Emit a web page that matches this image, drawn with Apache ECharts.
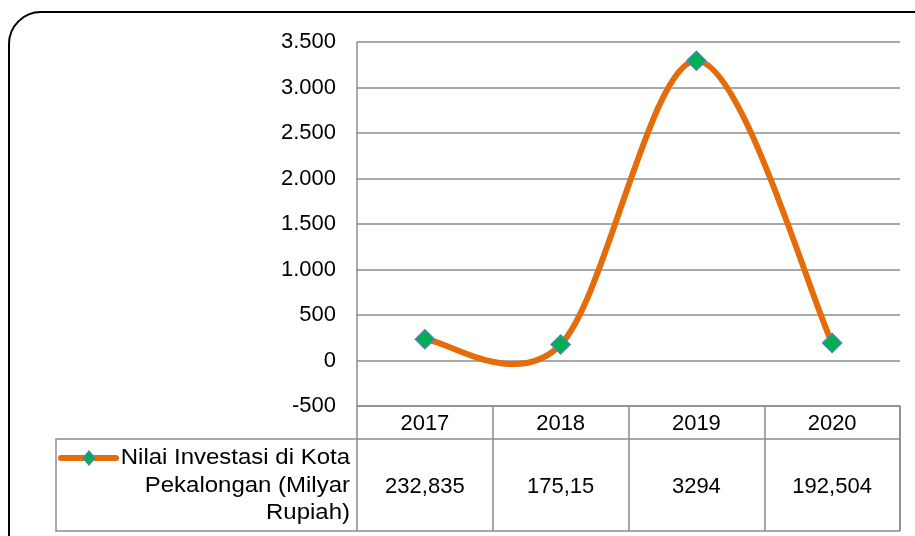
<!DOCTYPE html>
<html>
<head>
<meta charset="utf-8">
<script src="https://cdn.jsdelivr.net/npm/echarts@6/dist/echarts.min.js"></script>
<style>
html,body{margin:0;padding:0;background:#fff;}
#c{width:915px;height:536px;}
</style>
</head>
<body>
<div id="c"></div>
<script>
var categories = ['2017', '2018', '2019', '2020'];
var values = [232.835, 175.15, 3294, 192.504];
var seriesName = 'Nilai Investasi di Kota Pekalongan (Milyar Rupiah)';
var legendLines = ['Nilai Investasi di Kota', 'Pekalongan (Milyar', 'Rupiah)'];
var yMin = -500, yMax = 3500, yStep = 500;

var FONT = '"Liberation Sans", Arial, sans-serif';
var FS = 22;
var GRID = '#8c8c8c';
var LINE = '#E46C0A';

function fmtThousands(v) {
  var s = String(Math.abs(v)).replace(/\B(?=(\d{3})+(?!\d))/g, '.');
  return (v < 0 ? '-' : '') + s;
}
function fmtValue(v) { return String(v).replace('.', ','); }

var chart = echarts.init(document.getElementById('c'), null, {renderer: 'canvas'});

// Excel-style smoothed line (Catmull-Rom -> cubic Bezier) built from axis coordinates
function renderSmooth(params, api) {
  if (params.dataIndex !== 0) return null;
  var pts = values.map(function (v, i) { return api.coord([i, v]); });
  var n = pts.length, children = [];
  for (var i = 0; i < n - 1; i++) {
    var p0 = pts[Math.max(0, i - 1)], p1 = pts[i], p2 = pts[i + 1], p3 = pts[Math.min(n - 1, i + 2)];
    children.push({
      type: 'bezierCurve',
      shape: {
        x1: p1[0], y1: p1[1], x2: p2[0], y2: p2[1],
        cpx1: p1[0] + (p2[0] - p0[0]) / 6, cpy1: p1[1] + (p2[1] - p0[1]) / 6,
        cpx2: p2[0] - (p3[0] - p1[0]) / 6, cpy2: p2[1] - (p3[1] - p1[1]) / 6
      },
      style: {stroke: LINE, lineWidth: 6, fill: null, lineCap: 'round', lineJoin: 'round'}
    });
  }
  return {type: 'group', children: children};
}

var legendGraphics = [
  {type: 'line', shape: {x1: 61, y1: 458, x2: 116, y2: 458},
   style: {stroke: LINE, lineWidth: 6, lineCap: 'round'}, z: 10},
  {type: 'polygon', shape: {points: [[89, 451], [95, 458], [89, 465], [83, 458]]},
   style: {fill: '#00B050', stroke: '#4F81BD', lineWidth: 1.2}, z: 11}
];
legendLines.forEach(function (t, i) {
  legendGraphics.push({type: 'text', x: 350, y: 458 + i * 27.5, z: 10,
    scaleX: 1.09, originX: 0, originY: 0,
    style: {text: t, font: FS + 'px ' + FONT, fill: '#000', align: 'right', verticalAlign: 'middle'}});
});

var option = {
  animation: false,
  backgroundColor: '#fff',
  grid: {left: 357, right: 15, top: 42, bottom: 130, containLabel: false},
  xAxis: [{
    type: 'category', data: categories, position: 'bottom',
    boundaryGap: true,
    axisLine: {show: true, onZero: false, lineStyle: {color: GRID, width: 1.5}},
    axisTick: {show: true, interval: 0, alignWithLabel: false, length: 125, inside: false,
      lineStyle: {color: GRID, width: 1.5}},
    axisLabel: {show: true, interval: 0, margin: 7, color: '#000', fontSize: FS, fontFamily: FONT},
    splitLine: {show: false}
  }, {
    type: 'category', data: values.map(fmtValue), position: 'bottom',
    axisLine: {show: false}, axisTick: {show: false},
    axisLabel: {show: true, interval: 0, margin: 70, color: '#000', fontSize: FS, fontFamily: FONT},
    splitLine: {show: false}
  }],
  yAxis: {
    type: 'value', min: yMin, max: yMax, interval: yStep,
    axisLine: {show: true, lineStyle: {color: GRID, width: 1.5}},
    axisTick: {show: false},
    axisLabel: {margin: 21, color: '#000', fontSize: FS, fontFamily: FONT, formatter: fmtThousands},
    splitLine: {show: true, lineStyle: {color: GRID, width: 1.5}}
  },
  series: [{
    name: seriesName + ' (curve)',
    type: 'custom',
    xAxisIndex: 0,
    data: values.map(function (v, i) { return [i, v]; }),
    renderItem: renderSmooth,
    clip: false,
    z: 4
  }, {
    name: seriesName,
    type: 'line',
    data: values,
    xAxisIndex: 0,
    symbol: 'diamond',
    symbolSize: 19,
    lineStyle: {width: 0, opacity: 0},
    itemStyle: {color: '#00B050', borderColor: '#4F81BD', borderWidth: 1.5},
    z: 6
  }],
  graphic: [
    {type: 'rect', shape: {x: 9, y: 12, width: 1000, height: 700, r: 32},
     style: {fill: 'none', stroke: '#000', lineWidth: 2}, z: 0, silent: true},
    {type: 'polyline', shape: {points: [[900, 439], [56, 439], [56, 531], [900, 531]]},
     style: {fill: 'none', stroke: GRID, lineWidth: 1.5}, z: 1},
    {type: 'line', shape: {x1: 900, y1: 406, x2: 900, y2: 531},
     style: {stroke: GRID, lineWidth: 1.5}, z: 1}
  ].concat(legendGraphics)
};
chart.setOption(option);
</script>
</body>
</html>
